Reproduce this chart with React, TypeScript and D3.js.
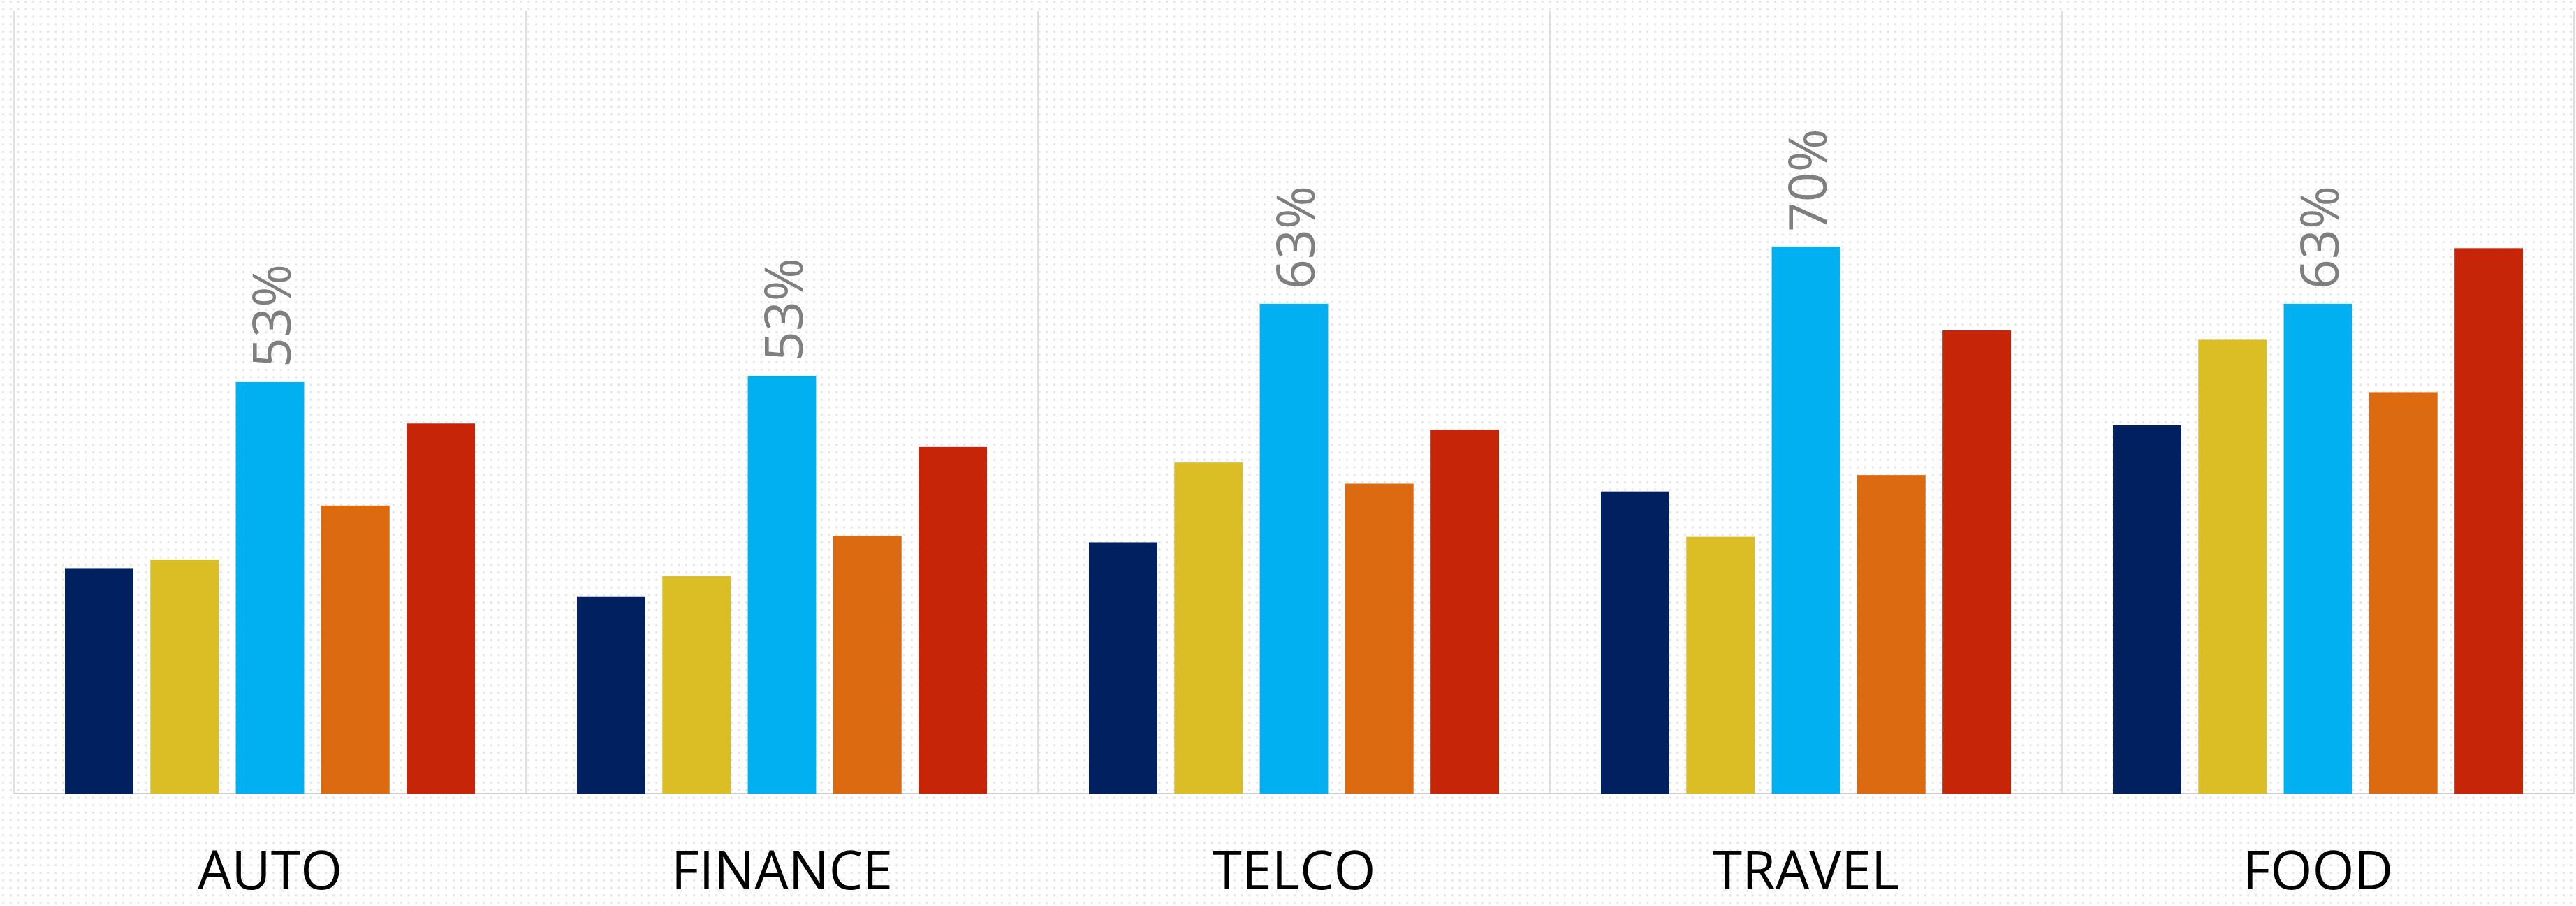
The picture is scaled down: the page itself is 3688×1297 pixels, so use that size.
import React from "react";
import * as d3 from "d3";

const categories = ["AUTO", "FINANCE", "TELCO", "TRAVEL", "FOOD"];
const seriesNames = ["S1", "S2", "S3", "S4", "S5"];
const seriesColors = ["#002060", "#DBBD25", "#00B0F0", "#DC6A10", "#C72508"];
// values in percent, per series (index aligned with categories)
const s1 = [28.8, 25.2, 32.1, 38.6, 47.1];
const s2 = [29.9, 27.8, 42.3, 32.8, 58.0];
const s3 = [52.6, 53.4, 62.6, 69.9, 62.6];
const s4 = [36.8, 32.9, 39.6, 40.7, 51.3];
const s5 = [47.3, 44.3, 46.5, 59.2, 69.7];
const seriesValues = [s1, s2, s3, s4, s5];
const labeledSeries = 2;
const yMax = 100;

const W = 3688;
const H = 1297;
const plot = { left: 20, right: 3685, top: 16, bottom: 1136 };

export default function App() {
  const x0 = d3.scaleBand<string>().domain(categories).range([plot.left, plot.right]).padding(0);
  const groupW = x0.bandwidth();
  const outer = groupW * 0.0996;
  const x1 = d3
    .scaleBand<string>()
    .domain(seriesNames)
    .range([outer, groupW - outer])
    .paddingInner(0.2)
    .paddingOuter(0);
  const y = d3.scaleLinear().domain([0, yMax]).range([plot.bottom, plot.top]);
  const fmt = d3.format(".0f");

  const gridXs = categories.map((c) => x0(c) as number).concat([plot.right]);

  return (
    <svg
      width={W}
      height={H}
      style={{ position: "absolute", left: 0, top: 0, display: "block" }}
      xmlns="http://www.w3.org/2000/svg"
    >
      <defs>
        <pattern id="dots" patternUnits="userSpaceOnUse" width={10.75} height={10.75}>
          <rect x={0} y={0} width={10.75} height={10.75} fill="#ffffff" />
          <rect x={3} y={1} width={3} height={3} fill="#e6e6e6" />
        </pattern>
      </defs>
      <rect x={0} y={0} width={W} height={H} fill="url(#dots)" />

      {gridXs.map((gx, i) => (
        <line
          key={"g" + i}
          x1={gx}
          x2={gx}
          y1={plot.top}
          y2={plot.bottom}
          stroke="#d6d6d6"
          strokeWidth={1.5}
        />
      ))}
      <line
        x1={plot.left}
        x2={plot.right}
        y1={plot.bottom}
        y2={plot.bottom}
        stroke="#d0d0d0"
        strokeWidth={2}
      />

      {categories.map((cat, ci) => (
        <g key={cat} transform={`translate(${x0(cat)},0)`}>
          {seriesNames.map((s, si) => {
            const v = seriesValues[si][ci];
            const bx = x1(s) as number;
            const by = y(v);
            return (
              <rect
                key={s}
                x={bx}
                y={by}
                width={x1.bandwidth()}
                height={plot.bottom - by}
                fill={seriesColors[si]}
              />
            );
          })}
          {(() => {
            const v = seriesValues[labeledSeries][ci];
            const cx = (x1(seriesNames[labeledSeries]) as number) + x1.bandwidth() / 2;
            const ty = y(v) - 21;
            return (
              <text
                transform={`translate(${cx + 29},${ty}) rotate(-90)`}
                textAnchor="start"
                fontFamily="'Open Sans', sans-serif"
                fontSize={75}
                fill="#7F7F7F"
              >
                {fmt(v) + "%"}
              </text>
            );
          })()}
          <text
            x={groupW / 2}
            y={1273}
            textAnchor="middle"
            fontFamily="'Open Sans', sans-serif"
            fontSize={77}
            fill="#000000"
          >
            {cat}
          </text>
        </g>
      ))}
    </svg>
  );
}
